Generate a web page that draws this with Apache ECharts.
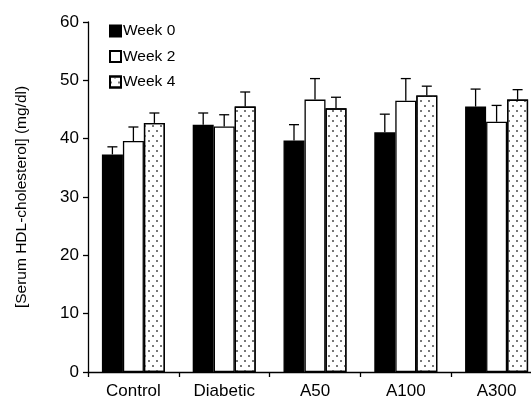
<!DOCTYPE html>
<html>
<head>
<meta charset="utf-8">
<script src="https://cdn.jsdelivr.net/npm/echarts@6/dist/echarts.min.js"></script>
<style>html,body{margin:0;padding:0;background:#fff}#c{width:531px;height:400px}</style>
</head>
<body>
<div id="c"></div>
<script>
const categories = ['Control', 'Diabetic', 'A50', 'A100', 'A300'];
const seriesNames = ['Week 0', 'Week 2', 'Week 4'];
const week0 = [37.3, 42.4, 39.7, 41.1, 45.5];
const week2 = [39.6, 42.1, 46.7, 46.5, 42.9];
const week4 = [42.7, 45.5, 45.2, 47.4, 46.7];
const week0Err = [1.3, 2.0, 2.7, 3.1, 3.0];
const week2Err = [2.4, 2.0, 3.6, 3.8, 2.8];
const week4Err = [1.7, 2.5, 1.9, 1.6, 1.7];
const yTicks = [0, 10, 20, 30, 40, 50, 60];

const BAR_W = 21;
const FONT = 'Liberation Sans, Arial, sans-serif';
const values = [week0, week2, week4];
const errs = [week0Err, week2Err, week4Err];

const dotted = {
  symbol: 'rect', symbolSize: 1, color: '#777',
  dashArrayX: [[2, 6], [0, 4, 2, 2]], dashArrayY: [2, 3]
};
const styles = [
  { color: '#000', borderColor: '#000', borderWidth: 1.3 },
  { color: '#fff', borderColor: '#000', borderWidth: 1.3 },
  { color: '#fff', borderColor: '#000', borderWidth: 1.3, decal: dotted }
];

const series = [];
seriesNames.forEach((name, i) => {
  series.push({
    name: name, type: 'bar', barWidth: BAR_W, barGap: '0%',
    data: values[i], itemStyle: styles[i], silent: true
  });
});
seriesNames.forEach((name, i) => {
  series.push({
    type: 'custom', z: 5, silent: true,
    data: values[i].map((v, k) => [k, v, v + errs[i][k]]),
    renderItem: function (params, api) {
      const p0 = api.coord([api.value(0), api.value(1)]);
      const p1 = api.coord([api.value(0), api.value(2)]);
      const x = p0[0] + (i - 1) * BAR_W;
      const cap = 5;
      return {
        type: 'group',
        children: [
          { type: 'line', shape: { x1: x, y1: p0[1], x2: x, y2: p1[1] }, style: { stroke: '#000', lineWidth: 1.3 } },
          { type: 'line', shape: { x1: x - cap, y1: p1[1], x2: x + cap, y2: p1[1] }, style: { stroke: '#000', lineWidth: 1.3 } }
        ]
      };
    }
  });
});

const chart = echarts.init(document.getElementById('c'), null, { renderer: 'canvas' });
chart.setOption({
  animation: false,
  backgroundColor: '#fff',
  grid: { left: 88, width: 454, top: 22, bottom: 28, containLabel: false, outerBoundsMode: 'none' },
  legend: {
    data: seriesNames, orient: 'vertical', left: 104, top: 18,
    itemWidth: 11, itemHeight: 11, itemGap: 9.5,
    icon: 'rect',
    textStyle: { fontFamily: FONT, fontSize: 15.5, color: '#000', padding: [0, 0, 0, -3] }
  },
  xAxis: {
    type: 'category', data: categories,
    axisLine: { lineStyle: { color: '#000', width: 1.3 } },
    axisTick: { show: true, length: 5, lineStyle: { color: '#000', width: 1.3 } },
    axisLabel: { fontFamily: FONT, fontSize: 17, color: '#000', margin: 11 }
  },
  yAxis: {
    type: 'value', min: yTicks[0], max: yTicks[yTicks.length - 1], interval: 10,
    name: '[Serum HDL-cholesterol] (mg/dl)', nameLocation: 'middle', nameGap: 58,
    nameTextStyle: { fontFamily: FONT, fontSize: 15.5, color: '#000' },
    axisLine: { show: true, lineStyle: { color: '#000', width: 1.3 } },
    axisTick: { show: true, length: 5, lineStyle: { color: '#000', width: 1.3 } },
    splitLine: { show: false },
    axisLabel: { fontFamily: FONT, fontSize: 17, color: '#000', margin: 9 }
  },
  series: series
});
</script>
</body>
</html>
